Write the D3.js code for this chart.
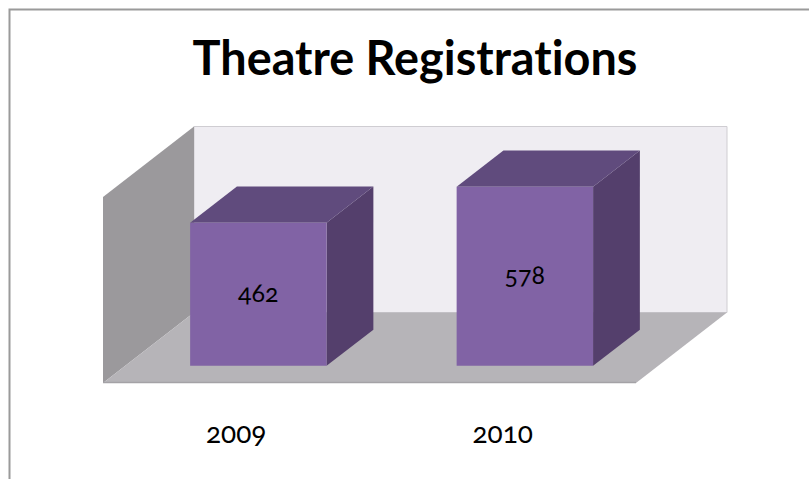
<!DOCTYPE html>
<html>
<head>
<meta charset="utf-8">
<script src="https://cdn.jsdelivr.net/npm/d3@7/dist/d3.min.js"></script>
<style>
  html, body { margin: 0; padding: 0; background: #ffffff; }
  svg { display: block; }
  text { font-variant-ligatures: none; font-feature-settings: "liga" 0, "clig" 0; }
  .num { font-family: Lato, "Noto Sans", sans-serif; font-variant-numeric: oldstyle-nums; font-feature-settings: "onum" 1, "liga" 0; }
</style>
</head>
<body>
<svg id="chart" width="809" height="479"></svg>
<script>
// Chart content
const title = "Theatre Registrations";
const categories = ["2009", "2010"];
const registrations = [462, 578];
const valueDomain = [0, 600];

const W = 809, H = 479;
const svg = d3.select("#chart");

// 3D box geometry: floor front edge, wall height and depth vector
const floorLeft = 103, floorRight = 636, floorFrontY = 383;
const wallHeight = 186;
const depth = { dx: 91, dy: -70.5 };
const barDepth = [0.243, 0.757];   // bar front/back as fraction of the floor depth
const barWidthFrac = 0.512;

const x = d3.scaleBand().domain(categories).range([floorLeft, floorRight]).padding(0);
const y = d3.scaleLinear().domain(valueDomain).range([0, wallHeight]);

// project (x on front plane, height above floor, depth fraction) to screen
const proj = (px, h, z) => [px + z * depth.dx, floorFrontY - h + z * depth.dy];
const poly = pts => "M" + pts.map(p => p.join(",")).join("L") + "Z";

// outer frame
svg.append("path")
  .attr("d", `M9.5,${H} V9.5 H${W}`)
  .attr("fill", "none").attr("stroke", "#9a9a9a").attr("stroke-width", 2);

// title
const titleText = svg.append("text")
  .attr("x", 415).attr("y", 75)
  .attr("text-anchor", "middle")
  .attr("font-family", "Lato, 'Open Sans', sans-serif")
  .attr("font-weight", 700)
  .attr("font-size", 44)
  .attr("fill", "#000")
  .text(title);
const tw = titleText.node().getComputedTextLength();
titleText.attr("font-size", 44 * 445 / tw);

// back wall
const x0 = floorLeft, x1 = floorRight;
svg.append("path")
  .attr("d", poly([proj(x0, 0, 1), proj(x1, 0, 1), proj(x1, wallHeight, 1), proj(x0, wallHeight, 1)]))
  .attr("fill", "#efedf2").attr("stroke", "#cfcdd2").attr("stroke-width", 1);

// side wall
svg.append("path")
  .attr("d", poly([proj(x0, 0, 0), proj(x0, wallHeight, 0), proj(x0, wallHeight, 1), proj(x0, 0, 1)]))
  .attr("fill", "#9b999c");

// floor
svg.append("path")
  .attr("d", poly([proj(x0, 0, 0), proj(x1, 0, 0), proj(x1, 0, 1), proj(x0, 0, 1)]))
  .attr("fill", "#b6b4b8");
svg.append("line")
  .attr("x1", x0).attr("x2", x1)
  .attr("y1", floorFrontY - 0.5).attr("y2", floorFrontY - 0.5)
  .attr("stroke", "#a4a2a6").attr("stroke-width", 1.5);

// bars
const bars = svg.append("g").selectAll("g")
  .data(categories.map((c, i) => ({ c, v: registrations[i] })))
  .join("g");

bars.each(function(d) {
  const g = d3.select(this);
  const bw = x.bandwidth() * barWidthFrac;
  const bl = x(d.c) + (x.bandwidth() - bw) / 2;
  const br = bl + bw;
  const h = y(d.v);
  const [zf, zb] = barDepth;
  // right side
  g.append("path")
    .attr("d", poly([proj(br, 0, zf), proj(br, 0, zb), proj(br, h, zb), proj(br, h, zf)]))
    .attr("fill", "#543f6c");
  // top
  g.append("path")
    .attr("d", poly([proj(bl, h, zf), proj(br, h, zf), proj(br, h, zb), proj(bl, h, zb)]))
    .attr("fill", "#604b7d");
  // front
  g.append("path")
    .attr("d", poly([proj(bl, 0, zf), proj(br, 0, zf), proj(br, h, zf), proj(bl, h, zf)]))
    .attr("fill", "#8163a5");
  // value label
  const c = proj((bl + br) / 2, h / 2, zf);
  g.append("text")
    .attr("class", "num")
    .attr("x", c[0]).attr("y", c[1] + 8)
    .attr("text-anchor", "middle")
    .attr("font-size", 25)
    .attr("fill", "#000")
    .text(d3.format("d")(d.v));
});

// category labels
svg.append("g").selectAll("text")
  .data(categories)
  .join("text")
  .attr("class", "num")
  .attr("x", d => x(d) + x.bandwidth() / 2)
  .attr("y", 443)
  .attr("text-anchor", "middle")
  .attr("font-size", 28)
  .attr("fill", "#000")
  .text(d => d);
</script>
</body>
</html>
